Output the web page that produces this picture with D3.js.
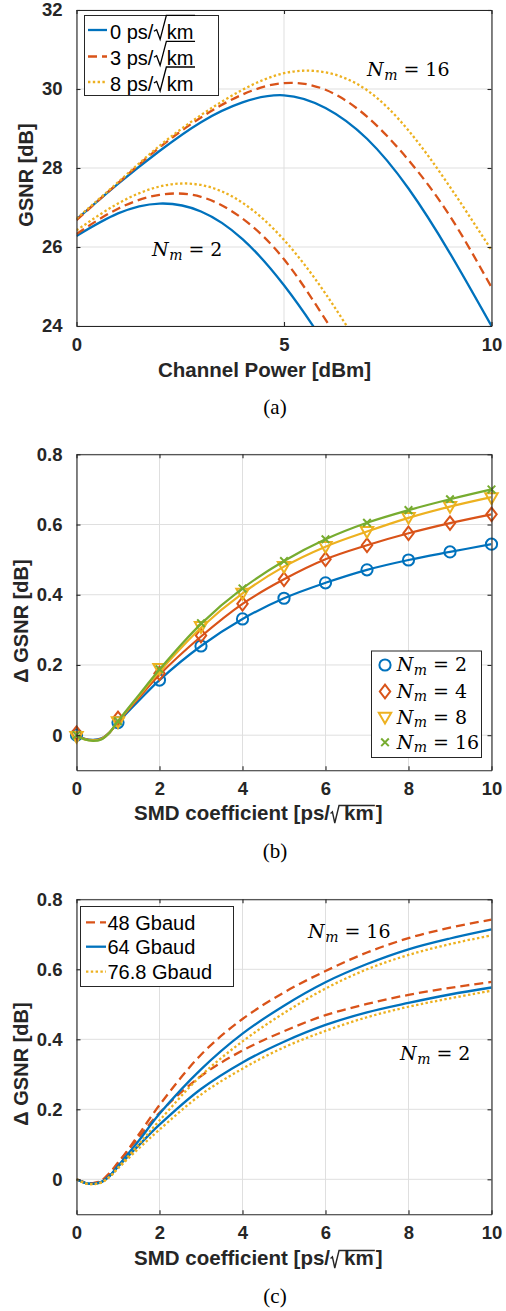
<!DOCTYPE html>
<html><head><meta charset="utf-8">
<script src="https://cdn.jsdelivr.net/npm/d3@7"></script>
<style>body{margin:0;background:#fff}svg{display:block}</style>
</head><body>
<svg id="fig" width="506" height="1311"></svg>
<script>
// ---------------- DATA ----------------
// Panel (a): GSNR vs channel power
const powerDbm   = [0, 1, 2, 3, 4, 5, 6, 7, 8, 9, 10];
const powerDbmN2 = [0, 1, 2, 3, 4, 5, 6, 7];
const gsnrN16_0ps = [26.70, 27.60, 28.43, 29.16, 29.66, 29.84, 29.52, 28.74, 27.48, 25.84, 24.00];
const gsnrN16_3ps = [26.68, 27.62, 28.52, 29.28, 29.86, 30.15, 29.98, 29.30, 28.20, 26.78, 24.98];
const gsnrN16_8ps = [26.72, 27.64, 28.56, 29.34, 29.98, 30.40, 30.42, 29.97, 28.95, 27.52, 25.92];
const gsnrN2_0ps  = [26.28, 26.85, 27.10, 26.90, 26.20, 25.03, 23.52, 21.80];
const gsnrN2_3ps  = [26.33, 26.97, 27.32, 27.27, 26.72, 25.69, 24.16, 22.50];
const gsnrN2_8ps  = [26.42, 27.10, 27.53, 27.57, 27.12, 26.18, 24.82, 23.18];
const legendA = ["0", "3", "8"];           // ps/√km
const xTicksA = [0, 5, 10];
const yTicksA = [24, 26, 28, 30, 32];

// Panel (b): ΔGSNR vs SMD coefficient, 64 Gbaud
const smdLine   = [0, 0.2, 0.4, 0.6, 0.8, 1, 1.5, 2, 3, 4, 5, 6, 7, 8, 9, 10];
const smdMarker = [0, 1, 2, 3, 4, 5, 6, 7, 8, 9, 10];
const dgN2_line  = [0, -0.010, -0.013, -0.009, 0.008, 0.036, 0.098, 0.157, 0.254, 0.331, 0.390, 0.434, 0.471, 0.499, 0.522, 0.544];
const dgN4_line  = [0, -0.011, -0.014, -0.010, 0.008, 0.038, 0.106, 0.172, 0.281, 0.374, 0.444, 0.501, 0.541, 0.575, 0.604, 0.629];
const dgN8_line  = [0, -0.012, -0.015, -0.011, 0.008, 0.039, 0.111, 0.181, 0.306, 0.404, 0.480, 0.537, 0.580, 0.619, 0.651, 0.678];
const dgN16_line = [0, -0.012, -0.016, -0.012, 0.008, 0.040, 0.114, 0.187, 0.317, 0.418, 0.496, 0.558, 0.605, 0.641, 0.672, 0.700];
const dgN2_mark  = [0.000, 0.036, 0.157, 0.254, 0.331, 0.390, 0.434, 0.471, 0.499, 0.522, 0.544];
const dgN4_mark  = [0.006, 0.048, 0.176, 0.284, 0.374, 0.444, 0.501, 0.541, 0.575, 0.604, 0.629];
const dgN8_mark  = [-0.004, 0.038, 0.190, 0.309, 0.404, 0.480, 0.537, 0.580, 0.620, 0.651, 0.676];
const dgN16_mark = [0.000, 0.040, 0.188, 0.319, 0.418, 0.496, 0.558, 0.605, 0.641, 0.672, 0.700];
const legendB = ["2", "4", "8", "16"];
const xTicksBC = [0, 2, 4, 6, 8, 10];
const yTicksBC = [0, 0.2, 0.4, 0.6, 0.8];

// Panel (c): ΔGSNR vs SMD coefficient for three symbol rates
const smdLineC = [0, 0.2, 0.4, 0.6, 0.8, 1, 1.5, 2, 3, 4, 5, 6, 7, 8, 9, 10];
const c48_N16  = [0, -0.009, -0.011, -0.004, 0.018, 0.045, 0.128, 0.212, 0.356, 0.458, 0.534, 0.595, 0.648, 0.689, 0.719, 0.742];
const c48_N2   = [0, -0.009, -0.011, -0.004, 0.018, 0.048, 0.120, 0.190, 0.295, 0.368, 0.423, 0.469, 0.501, 0.527, 0.547, 0.564];
const c64_N16  = [0, -0.010, -0.013, -0.008, 0.010, 0.038, 0.110, 0.187, 0.314, 0.416, 0.496, 0.563, 0.615, 0.657, 0.688, 0.714];
const c64_N2   = [0, -0.010, -0.013, -0.007, 0.010, 0.036, 0.097, 0.156, 0.258, 0.334, 0.393, 0.441, 0.477, 0.504, 0.528, 0.548];
const c768_N16 = [0, -0.011, -0.014, -0.009, 0.007, 0.033, 0.100, 0.168, 0.296, 0.394, 0.475, 0.545, 0.600, 0.641, 0.672, 0.697];
const c768_N2  = [0, -0.011, -0.014, -0.009, 0.007, 0.031, 0.088, 0.142, 0.242, 0.316, 0.377, 0.424, 0.463, 0.493, 0.517, 0.539];
const legendC = ["48 Gbaud", "64 Gbaud", "76.8 Gbaud"];

// ---------------- STYLE ----------------
const COL = {blue: "#0072BD", red: "#D95319", yellow: "#EDB120", green: "#77AC30"};
const DASH = "9,5", DOT = "2.4,2.4";
const SANS = "'Liberation Sans', Arial, Helvetica, sans-serif";
const SERIF = "'DejaVu Serif', 'Liberation Serif', serif";
const TSERIF = "'Liberation Serif', 'Times New Roman', serif";
const AX = "#262626";
const L = 76.5, R = 491.5;

const svg = d3.select("#fig");
const defs = svg.append("defs");

function makePanel(id, top, bottom, xDom, yDom) {
  const g = svg.append("g");
  const x = d3.scaleLinear().domain(xDom).range([L, R]);
  const y = d3.scaleLinear().domain(yDom).range([bottom, top]);
  defs.append("clipPath").attr("id", id).append("rect")
    .attr("x", L).attr("y", top).attr("width", R - L).attr("height", bottom - top);
  return {g, x, y, top, bottom, id};
}

function drawGrid(p, xt, yt) {
  const gg = p.g.append("g").attr("stroke", "#dfdfdf").attr("stroke-width", 1);
  gg.selectAll("line.gx").data(xt).join("line").attr("class", "gx")
    .attr("x1", d => p.x(d)).attr("x2", d => p.x(d)).attr("y1", p.top).attr("y2", p.bottom);
  gg.selectAll("line.gy").data(yt).join("line").attr("class", "gy")
    .attr("y1", d => p.y(d)).attr("y2", d => p.y(d)).attr("x1", L).attr("x2", R);
}

function drawAxes(p, xt, yt, yFmt) {
  const style = s => s.style("color", AX).attr("font-family", SANS).attr("font-size", 18.5)
    .attr("font-weight", "bold");
  p.g.append("g").attr("transform", `translate(0,${p.bottom})`)
    .call(d3.axisBottom(p.x).tickValues(xt).tickSizeInner(-4).tickSizeOuter(0).tickPadding(12).tickFormat(d3.format("d")))
    .call(style);
  p.g.append("g").attr("transform", `translate(0,${p.top})`)
    .call(d3.axisTop(p.x).tickValues(xt).tickSizeInner(-4).tickSizeOuter(0).tickFormat(""))
    .call(style);
  p.g.append("g").attr("transform", `translate(${L},0)`)
    .call(d3.axisLeft(p.y).tickValues(yt).tickSizeInner(-4).tickSizeOuter(0).tickPadding(14).tickFormat(yFmt))
    .call(style);
  p.g.append("g").attr("transform", `translate(${R},0)`)
    .call(d3.axisRight(p.y).tickValues(yt).tickSizeInner(-4).tickSizeOuter(0).tickFormat(""))
    .call(style);
  p.g.selectAll(".domain, .tick line").attr("stroke-width", 1.1);
  p.g.selectAll(".tick text").attr("fill", AX);
}

function drawLine(p, xs, ys, color, dash, curve, w) {
  const line = d3.line().x(d => p.x(d[0])).y(d => p.y(d[1])).curve(curve);
  p.g.append("path").datum(xs.map((v, i) => [v, ys[i]]))
    .attr("clip-path", `url(#${p.id})`)
    .attr("fill", "none").attr("stroke", color).attr("stroke-width", w || 2.3)
    .attr("stroke-dasharray", dash || null).attr("d", line);
}

function sampleLine(g, x1, x2, yy, color, dash) {
  g.append("line").attr("x1", x1).attr("x2", x2).attr("y1", yy).attr("y2", yy)
    .attr("stroke", color).attr("stroke-width", 2.3).attr("stroke-dasharray", dash || null);
}

// text with a radical sign and overline
function sqrtText(parent, o) {
  const mk = (str) => parent.append("text").attr("y", o.y).attr("font-family", SANS)
    .attr("font-size", o.size).attr("font-weight", o.weight).attr("fill", o.fill).text(str);
  const t1 = mk(o.pre), w1 = t1.node().getComputedTextLength();
  const t2 = mk(o.rad), w2 = t2.node().getComputedTextLength();
  const t3 = o.post ? mk(o.post) : null, w3 = t3 ? t3.node().getComputedTextLength() : 0;
  const total = w1 + o.radW + o.gap + w2 + o.tail + w3;
  const sx = o.anchor === "middle" ? o.x - total / 2 : o.x;
  t1.attr("x", sx);
  t2.attr("x", sx + w1 + o.radW + o.gap);
  if (t3) t3.attr("x", sx + w1 + o.radW + o.gap + w2 + o.tail);
  const x0 = sx + w1 + 0.5, b = o.y;
  const endX = sx + w1 + o.radW + o.gap + w2 + o.tail * 0.6;
  parent.append("path")
    .attr("d", `M${x0},${b - o.hookY} L${x0 + 0.22 * o.radW},${b - o.hookY - 1.6} L${x0 + 0.5 * o.radW},${b + o.drop} L${x0 + o.radW},${b - o.radH} L${endX},${b - o.radH}`)
    .attr("fill", "none").attr("stroke", o.fill).attr("stroke-width", o.sw).attr("stroke-linejoin", "miter");
}

function mathN(parent, x, y, val) {
  const t = parent.append("text").attr("x", x).attr("y", y)
    .attr("font-family", SERIF).attr("font-size", 19).attr("fill", "#000");
  t.append("tspan").attr("font-style", "italic").text("N");
  t.append("tspan").attr("font-style", "italic").attr("font-size", 14).attr("dy", 3.5).attr("dx", 0.5).text("m");
  t.append("tspan").attr("dy", -3.5).attr("dx", 6).text("=");
  t.append("tspan").attr("dx", 6).text(val);
  return t;
}

function yLabel(parent, x, y, str) {
  parent.append("text").attr("transform", `translate(${x},${y}) rotate(-90)`)
    .attr("text-anchor", "middle").attr("font-family", SANS).attr("font-size", 20)
    .attr("font-weight", "bold").attr("fill", AX).text(str);
}

function caption(str, y) {
  svg.append("text").attr("x", 275).attr("y", y).attr("text-anchor", "middle")
    .attr("font-family", TSERIF).attr("font-size", 21).attr("fill", "#000").text(str);
}

// ---------------- PANEL (a) ----------------
const pa = makePanel("clipA", 10, 326, [0, 10], [24, 32]);
drawGrid(pa, xTicksA, yTicksA);
const curveA = d3.curveNatural;
drawLine(pa, powerDbm, gsnrN16_0ps, COL.blue, null, curveA);
drawLine(pa, powerDbm, gsnrN16_3ps, COL.red, DASH, curveA);
drawLine(pa, powerDbm, gsnrN16_8ps, COL.yellow, DOT, curveA);
drawLine(pa, powerDbmN2, gsnrN2_0ps, COL.blue, null, curveA);
drawLine(pa, powerDbmN2, gsnrN2_3ps, COL.red, DASH, curveA);
drawLine(pa, powerDbmN2, gsnrN2_8ps, COL.yellow, DOT, curveA);
drawAxes(pa, xTicksA, yTicksA, d3.format("d"));
yLabel(svg, 33, 175, "GSNR [dB]");
svg.append("text").attr("x", 264.5).attr("y", 376.5).attr("text-anchor", "middle")
  .attr("font-family", SANS).attr("font-size", 20.5).attr("font-weight", "bold").attr("fill", AX)
  .text("Channel Power [dBm]");
mathN(svg, 367, 76, "16");
mathN(svg, 152, 256, "2");
{
  const lg = svg.append("g");
  lg.append("rect").attr("x", 84.5).attr("y", 15.5).attr("width", 134).attr("height", 80)
    .attr("fill", "#fff").attr("stroke", AX).attr("stroke-width", 1);
  const cols = [COL.blue, COL.red, COL.yellow], dashes = [null, DASH, DOT];
  const ly = [30, 56.5, 82], tb = [39.3, 65.3, 91];
  legendA.forEach((v, i) => {
    sampleLine(lg, 88, 107, ly[i], cols[i], dashes[i]);
    sqrtText(lg, {x: 110, y: tb[i], anchor: "start", pre: v + " ps/", rad: "km", post: null,
      size: 20, weight: "normal", fill: "#000", radW: 12.5, gap: 1, tail: 2.5,
      radH: 24, hookY: 8, drop: 0, sw: 1.3});
  });
}
caption("(a)", 414);

// ---------------- PANEL (b) ----------------
const pb = makePanel("clipB", 454.3, 770.3, [0, 10], [-0.1, 0.8]);
drawGrid(pb, xTicksBC, yTicksBC);
const curveBC = d3.curveCatmullRom.alpha(0.5);
const fmtBC = d => d === 0 ? "0" : d3.format(".1f")(d);
const seriesB = [
  {line: dgN2_line, mark: dgN2_mark, color: COL.blue, sym: "circle"},
  {line: dgN4_line, mark: dgN4_mark, color: COL.red, sym: "diamond"},
  {line: dgN8_line, mark: dgN8_mark, color: COL.yellow, sym: "tri"},
  {line: dgN16_line, mark: dgN16_mark, color: COL.green, sym: "x"}
];
function marker(g, sym, cx, cy, color) {
  const s = g.append("g").attr("transform", `translate(${cx},${cy})`)
    .attr("fill", "none").attr("stroke", color).attr("stroke-width", 2);
  if (sym === "circle") s.append("circle").attr("r", 5.6);
  else if (sym === "diamond") s.append("path").attr("d", "M0,-6.8L5.2,0L0,6.8L-5.2,0Z");
  else if (sym === "tri") s.append("path").attr("d", "M-6.2,-4.6L6.2,-4.6L0,6.2Z");
  else { s.append("path").attr("d", "M-3.8,-3.8L3.8,3.8M-3.8,3.8L3.8,-3.8"); }
}
seriesB.forEach(s => {
  drawLine(pb, smdLine, s.line, s.color, null, curveBC, 2.2);
  smdMarker.forEach((v, i) => marker(pb.g, s.sym, pb.x(v), pb.y(s.mark[i]), s.color));
});
drawAxes(pb, xTicksBC, yTicksBC, fmtBC);
yLabel(svg, 28, 621, "\u0394 GSNR [dB]");
sqrtText(svg, {x: 258.3, y: 820, anchor: "middle", pre: "SMD coefficient [ps/", rad: "km", post: "]",
  size: 20.5, weight: "bold", fill: AX, radW: 8.5, gap: 5.5, tail: 2, radH: 14.5, hookY: 6.5, drop: 3, sw: 1.4});
{
  const lg = svg.append("g");
  lg.append("rect").attr("x", 371.5).attr("y", 651).attr("width", 110).attr("height", 106.5)
    .attr("fill", "#fff").attr("stroke", AX).attr("stroke-width", 1);
  const cy = [665, 691.5, 717.3, 742.3];
  legendB.forEach((v, i) => {
    marker(lg, seriesB[i].sym, 385, cy[i], seriesB[i].color);
    mathN(lg, 396.7, cy[i] + 6.3, v);
  });
}
caption("(b)", 858);

// ---------------- PANEL (c) ----------------
const pc = makePanel("clipC", 899.3, 1214.3, [0, 10], [-0.1, 0.8]);
drawGrid(pc, xTicksBC, yTicksBC);
drawLine(pc, smdLineC, c48_N16, COL.red, DASH, curveBC);
drawLine(pc, smdLineC, c48_N2, COL.red, DASH, curveBC);
drawLine(pc, smdLineC, c64_N16, COL.blue, null, curveBC);
drawLine(pc, smdLineC, c64_N2, COL.blue, null, curveBC);
drawLine(pc, smdLineC, c768_N16, COL.yellow, DOT, curveBC);
drawLine(pc, smdLineC, c768_N2, COL.yellow, DOT, curveBC);
drawAxes(pc, xTicksBC, yTicksBC, fmtBC);
yLabel(svg, 28, 1064, "\u0394 GSNR [dB]");
sqrtText(svg, {x: 258.3, y: 1265, anchor: "middle", pre: "SMD coefficient [ps/", rad: "km", post: "]",
  size: 20.5, weight: "bold", fill: AX, radW: 8.5, gap: 5.5, tail: 2, radH: 14.5, hookY: 6.5, drop: 3, sw: 1.4});
mathN(svg, 308, 938.3, "16");
mathN(svg, 400, 1060, "2");
{
  const lg = svg.append("g");
  lg.append("rect").attr("x", 80.5).attr("y", 906.5).attr("width", 153).attr("height", 80)
    .attr("fill", "#fff").attr("stroke", AX).attr("stroke-width", 1);
  const cols = [COL.red, COL.blue, COL.yellow], dashes = [DASH, null, DOT];
  const ly = [922.3, 946.7, 971.7], tb = [929.5, 954.2, 979.2];
  legendC.forEach((v, i) => {
    sampleLine(lg, 86, 106, ly[i], cols[i], dashes[i]);
    lg.append("text").attr("x", 107.5).attr("y", tb[i]).attr("font-family", SANS)
      .attr("font-size", 20).attr("fill", "#000").text(v);
  });
}
caption("(c)", 1303);
</script>
</body></html>
